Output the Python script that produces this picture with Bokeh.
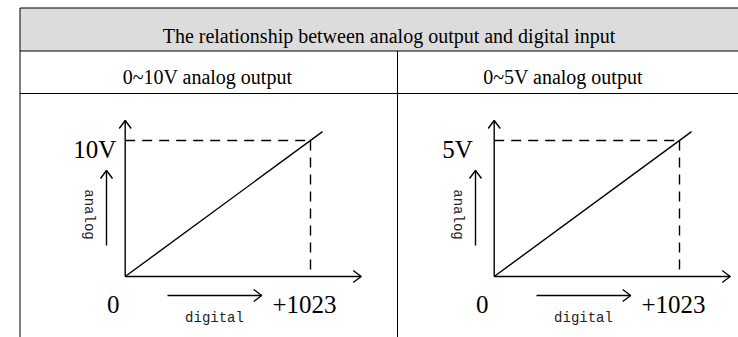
import math
from bokeh.plotting import figure
from bokeh.models import Range1d
from bokeh.core.properties import value
from bokeh.embed import file_html
from bokeh.resources import INLINE

# ---- data ----
table_title = "The relationship between analog output and digital input"
panel_titles = ["0~10V analog output", "0~5V analog output"]
digital_input = [0, 1023]
analog_10v = [0, 10]
analog_5v = [0, 5]
panel_analog = [analog_10v, analog_5v]
voltage_labels = ["10V", "5V"]
x_axis_name = "digital"
y_axis_name = "analog"

# ---- canvas ----
W, H = 738, 337
SERIF = value("Liberation Serif")
MONO = value("Liberation Mono")

p = figure(width=W, height=H, x_range=Range1d(0, W), y_range=Range1d(H, 0),
           output_backend="svg", toolbar_location=None, min_border=0,
           x_axis_type=None, y_axis_type=None)
p.grid.visible = False
p.outline_line_color = None
p.background_fill_color = "white"
p.border_fill_color = "white"

# table
left_x, top_y, hdr_y, sub_y, mid_x = 19.5, 7.5, 50.5, 93.0, 397.0
p.quad(left=left_x, right=W, top=top_y, bottom=hdr_y, fill_color="#dcdcdc", line_color=None)
p.multi_line(xs=[[left_x, W], [left_x, W], [left_x, W], [left_x, left_x], [mid_x, mid_x]],
             ys=[[top_y, top_y], [hdr_y, hdr_y], [sub_y, sub_y], [top_y, H], [hdr_y, H]],
             line_color="black", line_width=1)
p.text(x=[388.5], y=[35.5], text=[table_title], text_font=SERIF, text_font_size="20px",
       text_align="center", text_baseline="alphabetic", text_color="black")
p.text(x=[207, 562.5], y=[76, 76], text=panel_titles, text_font=SERIF, text_font_size="20px",
       text_align="center", text_baseline="alphabetic", text_color="black")

LW = 1.4
origins = [(124.7, 276.0), (493.7, 276.0)]
span_x, span_y = 185.3, 136.0
ext = 1.065


def up_head(tx, ty):
    return [tx - 6, tx, tx + 6], [ty + 8, ty, ty + 8]


def right_head(tx, ty):
    return [tx - 8, tx, tx - 8], [ty - 6, ty, ty + 6]


for i, (ox, oy) in enumerate(origins):
    dmax = digital_input[-1]
    vals = panel_analog[i]
    vmax = vals[-1]
    ds = dmax / span_x
    vs = vmax / span_y
    xn, yn = f"dig{i}", f"ana{i}"
    p.extra_x_ranges[xn] = Range1d(start=-ox * ds, end=(W - ox) * ds)
    p.extra_y_ranges[yn] = Range1d(start=-(H - oy) * vs, end=oy * vs)

    # transfer line
    p.line(x=[d * ext for d in digital_input], y=[v * ext for v in vals],
           x_range_name=xn, y_range_name=yn, line_color="black", line_width=LW)
    # dashed full-scale markers
    p.line(x=[digital_input[0], dmax], y=[vmax, vmax], x_range_name=xn, y_range_name=yn,
           line_color="black", line_width=LW, line_dash="10 7")
    p.line(x=[dmax, dmax], y=[vmax, vals[0]], x_range_name=xn, y_range_name=yn,
           line_color="black", line_width=LW, line_dash="10 7")

    # axes with arrows
    ytip = 120.0
    xtip = ox + 236.0
    hx1, hy1 = up_head(ox, ytip)
    hx2, hy2 = right_head(xtip, oy)
    # small digital / analog arrows
    dx0, dx1, dy = ox + 42.3, ox + 136.5, 295.0
    ax, ay0, ay1 = ox - 18.7, 245.0, 170.0
    hx3, hy3 = right_head(dx1, dy)
    hx4, hy4 = up_head(ax, ay1)
    p.multi_line(xs=[[ox, ox], [ox, xtip], hx1, hx2, [dx0, dx1], hx3, [ax, ax], hx4],
                 ys=[[oy, ytip], [oy, oy], hy1, hy2, [dy, dy], hy3, [ay0, ay1], hy4],
                 line_color="black", line_width=LW)

    # labels
    p.text(x=[ox - 52], y=[149], text=[voltage_labels[i]], text_font=SERIF,
           text_font_size="25px", text_align="left", text_baseline="alphabetic", text_color="black")
    p.text(x=[ox - 12], y=[304], text=[str(digital_input[0])], text_font=SERIF,
           text_font_size="25px", text_align="center", text_baseline="alphabetic", text_color="black")
    p.text(x=[ox + 147.3], y=[304], text=["+" + str(dmax)], text_font=SERIF,
           text_font_size="25px", text_align="left", text_baseline="alphabetic", text_color="black")
    p.text(x=[ox + 89.3], y=[317], text=[x_axis_name], text_font=MONO,
           text_font_size="14px", text_align="center", text_baseline="alphabetic", text_color="#222222")
    p.text(x=[ox - 36.7], y=[214], text=[y_axis_name], text_font=MONO, angle=-math.pi / 2,
           text_font_size="14px", text_align="center", text_baseline="middle", text_color="#222222")

open("out.html", "w").write(file_html(p, INLINE))
